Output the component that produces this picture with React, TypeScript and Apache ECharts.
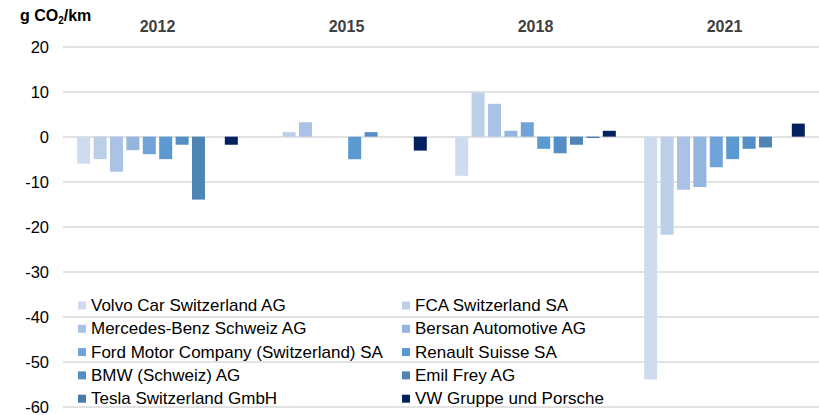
import React, { useEffect, useRef } from "react";
import * as echarts from "echarts";

const years = ["2012", "2015", "2018", "2021"];
const yTicks = { min: -60, max: 20, interval: 10 };

const seriesNames = [
  "Volvo Car Switzerland AG",
  "FCA Switzerland SA",
  "Mercedes-Benz Schweiz AG",
  "Bersan Automotive AG",
  "Ford Motor Company (Switzerland) SA",
  "Renault Suisse SA",
  "BMW (Schweiz) AG",
  "Emil Frey AG",
  "Tesla Switzerland GmbH",
  "VW Gruppe und Porsche",
];

const volvo = [-6, null, -8.7, -54];
const fca = [-5, 1, 9.8, -21.8];
const mercedes = [-7.8, 3.2, 7.3, -11.8];
const bersan = [-3, null, 1.3, -11.2];
const ford = [-3.9, null, 3.2, -6.8];
const renault = [-5, -5, -2.7, -5];
const bmw = [-1.8, 1, -3.7, -2.7];
const emilFrey = [-14, null, -1.8, -2.4];
const tesla = [null, null, -0.3, null];
const vw = [-1.8, -3.1, 1.3, 2.9];

const seriesValues = [volvo, fca, mercedes, bersan, ford, renault, bmw, emilFrey, tesla, vw];

const colors = [
  "#cfdbee",
  "#bbcfe9",
  "#a9c2e5",
  "#93b5de",
  "#6fa3d9",
  "#5a9ad0",
  "#548ec6",
  "#4f85b5",
  "#4a7aab",
  "#03215f",
];

const FONT = "'Liberation Sans', Arial, sans-serif";

export default function App() {
  const ref = useRef<HTMLDivElement>(null);

  useEffect(() => {
    if (!ref.current) return;
    const chart = echarts.init(ref.current, undefined, { renderer: "svg" });
    const legendCommon = {
      orient: "vertical" as const,
      top: 297,
      padding: 0,
      itemGap: 6.3,
      itemWidth: 8,
      itemHeight: 8,
      icon: "rect",
      selectedMode: false,
      textStyle: { fontSize: 17, color: "#000", fontFamily: FONT, lineHeight: 16 },
    };
    chart.setOption({
      animation: false,
      color: colors,
      textStyle: { fontFamily: FONT },
      title: {
        left: 20,
        top: 5,
        padding: 0,
        text: "{a|g CO}{s|2}{a|/km}",
        textStyle: {
          rich: {
            a: { fontSize: 16, fontWeight: "bold", color: "#000", lineHeight: 20, fontFamily: FONT },
            s: { fontSize: 10, fontWeight: "bold", color: "#000", lineHeight: 10, verticalAlign: "bottom", fontFamily: FONT },
          },
        },
      },
      legend: [
        { ...legendCommon, left: 78, data: [0, 2, 4, 6, 8].map((i) => seriesNames[i]) },
        { ...legendCommon, left: 402, data: [1, 3, 5, 7, 9].map((i) => seriesNames[i]) },
      ],
      grid: { left: 63, top: 46.7, bottom: 8.3, right: -16, containLabel: false },
      xAxis: {
        type: "category",
        position: "top",
        data: years,
        axisLine: { show: false, onZero: false },
        axisTick: { show: false },
        axisLabel: { fontSize: 16, fontWeight: "bold", color: "#404040", margin: 12, fontFamily: FONT },
      },
      yAxis: {
        type: "value",
        min: yTicks.min,
        max: yTicks.max,
        interval: yTicks.interval,
        axisLine: { show: false },
        axisTick: { show: false },
        axisLabel: { fontSize: 16.5, color: "#000", margin: 14, fontFamily: FONT },
        splitLine: { lineStyle: { color: "#d9d9d9", width: 1.5 } },
      },
      series: seriesNames.map((name, i) => ({
        name,
        type: "bar",
        data: seriesValues[i],
        barCategoryGap: "15%",
        barGap: "26%",
        itemStyle: { color: colors[i] },
      })),
    });
    return () => chart.dispose();
  }, []);

  return (
    <div
      ref={ref}
      style={{ position: "fixed", left: 0, top: 0, width: 819, height: 415, background: "#fff" }}
    />
  );
}
